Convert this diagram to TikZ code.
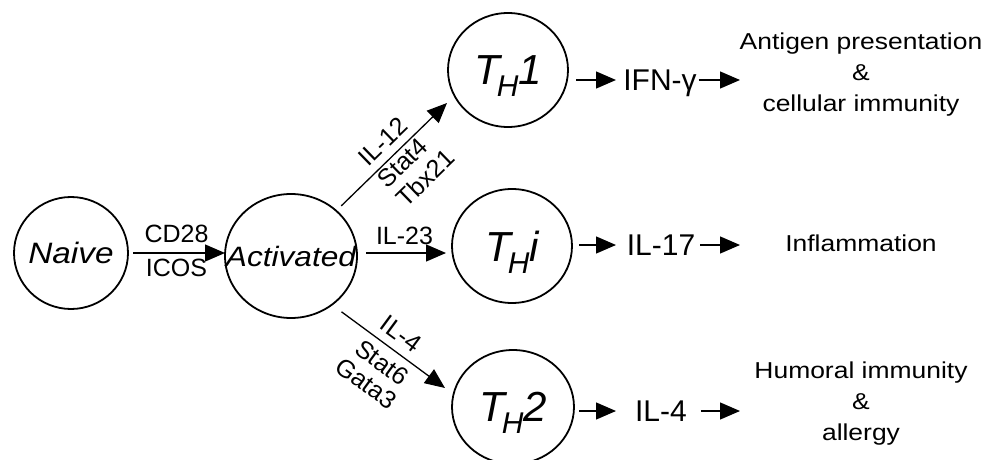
\documentclass[tikz,border=0pt]{standalone}
\usepackage{fontspec}
\setmainfont{Liberation Sans}
\newfontfamily\widefont{Liberation Sans}[FakeStretch=1.15]
\newfontfamily\cellfont{Liberation Sans}[FakeStretch=1.13]
\newfontfamily\labfont{Liberation Sans}
\usetikzlibrary{arrows.meta,shapes.geometric}
\newcommand{\fsz}[1]{\fontsize{#1}{#1}\selectfont}
\newcommand{\thname}[1]{\makebox[0pt][c]{\labfont\fsz{42}\itshape T\kern-3pt\smash{\raisebox{-12pt}{\fsz{30}H}}\kern0pt #1}}
\newcommand{\cellname}[2]{\makebox[0pt][c]{\cellfont\fsz{#1}\itshape #2}}
\begin{document}
\begin{tikzpicture}[x=1pt,y=-1pt,
  every node/.style={inner sep=0pt,outer sep=0pt},
  cell/.style n args={2}{ellipse,draw,line width=1.8pt,minimum width=#1pt,minimum height=#2pt},
  arr/.style={-{Triangle[length=20pt,width=17pt]},line width=1.3pt},
  lab/.style={font=\labfont\fontsize{25}{27}\selectfont},
  mid/.style={font=\labfont\fsz{30},text height=21.5pt,text depth=0pt},
  outtxt/.style={font=\widefont\fontsize{23}{31}\selectfont,align=center}]
\path[use as bounding box,fill=white] (0,0) rectangle (986,460);

% cells
\node[cell={114}{112}] (naive) at (71,253) {\cellname{29.5}{Naive}};
\node[cell={132}{124}] (act) at (291,256) {\cellname{28}{Activated}};
\node[cell={120}{114}] (th1) at (508,70) {\thname{1}};
\node[cell={120}{114}] (thi) at (512,246) {\thname{i}};
\node[cell={122}{114}] (th2) at (513,407) {\thname{2}};

% naive -> activated
\draw[arr,shorten <=5pt] (naive.east) -- (naive.east -| act.west)
  node[midway,above=10pt,lab]{CD28}
  node[midway,below=6pt,lab]{ICOS};

% activated -> TH1
\coordinate (in1) at (447,103);
\draw[arr,shorten <=7pt] (act.45) -- (in1)
  node[pos=0.53,sloped,above=8pt,lab]{IL-12}
  node[pos=0.56,sloped,below=3pt,lab,align=left]{Stat4\\Tbx21};

% activated -> THi
\draw[arr,shorten <=9pt,shorten >=6pt] ([yshift=3pt]act.east) -- ([yshift=3pt]act.east -| thi.west)
  node[midway,above=8pt,lab]{IL-23};

% activated -> TH2
\coordinate (in2) at (445,388);
\draw[arr,shorten <=12pt] (act.-50) -- (in2)
  node[pos=0.52,sloped,above=9pt,lab]{IL-4}
  node[pos=0.53,sloped,below=8pt,lab,align=center,font=\labfont\fontsize{25}{26}\selectfont]{Stat6\\Gata3};

% cytokines
\node[mid] (ifn) at (660,80) {IFN-γ};
\node[mid] (il17) at (661,245) {IL-17};
\node[mid] (il4) at (661,411) {IL-4};

\coordinate (a1) at (616,80);
\coordinate (a2) at (616,245);
\coordinate (a3) at (616,411);
\draw[arr,shorten <=8pt] (th1.east |- a1) -- (a1);
\draw[arr,shorten <=7pt] (thi.east |- a2) -- (a2);
\draw[arr,shorten <=5pt] (th2.east |- a3) -- (a3);

\coordinate (b1) at (740,80);
\coordinate (b2) at (740,245);
\coordinate (b3) at (740,411);
\draw[arr,shorten <=2pt] (ifn.east) -- (b1);
\draw[arr,shorten <=5pt] (il17.east) -- (b2);
\draw[arr,shorten <=14pt] (il4.east) -- (b3);

% outcomes
\node[outtxt] (o1) at (861,75) {Antigen presentation\\\&\\cellular immunity};
\node[outtxt] (o2) at (861,243) {Inflammation};
\node[outtxt] (o3) at (861,404) {Humoral immunity\\\&\\allergy};
\end{tikzpicture}
\end{document}
